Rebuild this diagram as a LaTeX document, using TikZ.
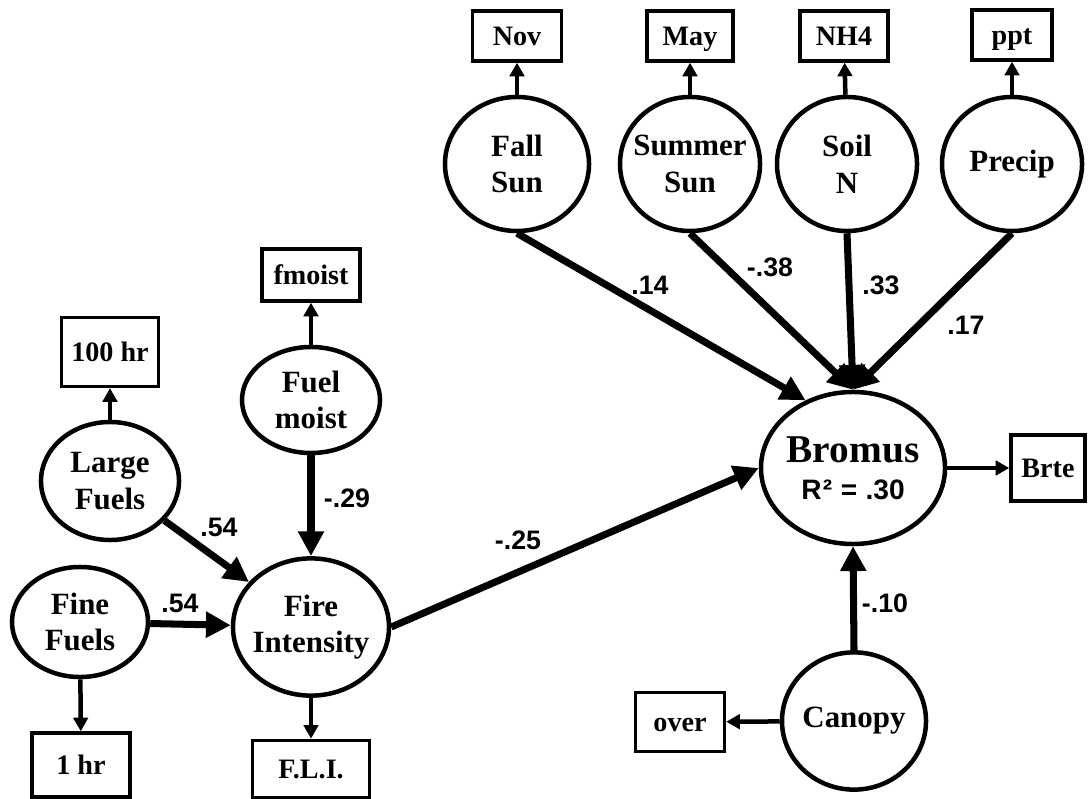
\documentclass[tikz,border=0pt]{standalone}
\usepackage{fontspec}
\setmainfont{Liberation Serif}
\newfontfamily\arialfont{Liberation Sans}
\usetikzlibrary{arrows.meta,shapes.geometric}
\tikzset{
  lat/.style={ellipse, draw, line width=3.2pt, inner sep=-8pt, align=center,
    minimum width=3.5cm, minimum height=3.35cm,
    font=\fontsize{22}{26}\selectfont\bfseries},
  ind/.style={rectangle, draw, line width=2.4pt, inner sep=0pt, minimum height=1.25cm,
    text height=13.2pt, text depth=0pt,
    font=\fontsize{20}{22}\selectfont\bfseries},
  pth/.style={-{Triangle[length=0.62cm, width=0.62cm]}, line width=5pt},
  ldg/.style={-{Triangle[length=0.34cm, width=0.36cm]}, line width=3.2pt},
  coef/.style={font=\arialfont\fontsize{19}{22}\selectfont\bfseries},
}

\begin{document}
\begin{tikzpicture}[x=0.025cm, y=-0.025cm]
  \useasboundingbox (0,0) rectangle (1089,799);
  % latent variables
  \node[lat, minimum width=3.6cm] (fall) at (517,164) {Fall\\Sun};
  \node[lat] (summer) at (690,164) {Summer\\Sun};
  \node[lat] (soil) at (847,164) {Soil\\N};
  \node[lat] (precip) at (1012,164) {Precip};
  \node[lat, minimum width=4.6cm, minimum height=3.8cm,
    font=\fontsize{28}{26}\selectfont\bfseries] (bromus) at (853,468)
    {Bromus\\{\arialfont\fontsize{20}{20}\selectfont R\kern1pt²\hspace{0.3em}=\hspace{0.3em}.30}};
  \node[lat, minimum width=3.6cm, minimum height=3.43cm] (canopy) at (854,721) {Canopy};
  \node[lat, minimum width=3.9cm, minimum height=3.43cm] (fire) at (311,627) {Fire\\Intensity};
  \node[lat, minimum width=3.4cm, minimum height=2.75cm] (fine) at (80,622) {Fine\\Fuels};
  \node[lat, minimum width=3.45cm, minimum height=2.95cm] (large) at (110,481) {Large\\Fuels};
  \node[lat, minimum width=3.45cm, minimum height=2.65cm] (fuelmoist) at (311,400) {Fuel\\moist};
  % indicators
  \node[ind, minimum width=2.225cm] (nov) at (517,36) {Nov};
  \node[ind, minimum width=2.15cm] (may) at (690,36) {May};
  \node[ind, minimum width=2.2cm] (nh) at (844,36) {NH4};
  \node[ind, minimum width=2cm] (ppt) at (1012,35) {ppt};
  \node[ind, minimum width=1.85cm, minimum height=1.65cm] (brte) at (1048,468) {Brte};
  \node[ind, minimum width=2.225cm, minimum height=1.475cm] (over) at (680,722) {over};
  \node[ind, minimum width=2.925cm, minimum height=1.43cm] (fli) at (311,769) {F.L.I.};
  \node[ind, minimum width=2.45cm, minimum height=1.6cm] (onehr) at (81,765) {1 hr};
  \node[ind, minimum width=2.425cm, minimum height=1.725cm] (hundred) at (110,352) {100 hr};
  \node[ind, minimum width=2.45cm, minimum height=1.3cm] (fmoist) at (311,275) {fmoist};
  % loadings
  \draw[ldg] (fall) -- (nov);
  \draw[ldg] (summer) -- (may);
  \draw[ldg] (soil) -- (nh);
  \draw[ldg] (precip) -- (ppt);
  \draw[ldg] (bromus) -- (brte);
  \draw[ldg] (canopy) -- (over);
  \draw[ldg] (fire) -- (fli);
  \draw[ldg] (fine) -- (onehr);
  \draw[ldg] (large) -- (hundred);
  \draw[ldg] (fuelmoist) -- (fmoist);
  % paths
  \draw[pth] (fall.south) -- (bromus.125);
  \draw[pth] (summer.south) -- (bromus.north);
  \draw[pth] (soil.south) -- (bromus.north);
  \draw[pth] (precip.south) -- (bromus.north);
  \draw[pth] (canopy.north) -- (bromus.south);
  \draw[pth] (fire.east) -- (bromus.west);
  \draw[pth] (fine) -- (fire);
  \draw[pth] (large) -- (fire);
  \draw[pth] (fuelmoist) -- (fire);
  % coefficients
  \node[coef] (c14) at (650,285) {.14};
  \node[coef] (c38) at (770,267) {-.38};
  \node[coef] (c33) at (881,285) {.33};
  \node[coef] (c17) at (966,325) {.17};
  \node[coef] (c25) at (518,540) {-.25};
  \node[coef] (c10) at (885,603) {-.10};
  \node[coef] (c29) at (347,498) {-.29};
  \node[coef] (c54a) at (219,527) {.54};
  \node[coef] (c54b) at (180,603) {.54};
\end{tikzpicture}
\end{document}
